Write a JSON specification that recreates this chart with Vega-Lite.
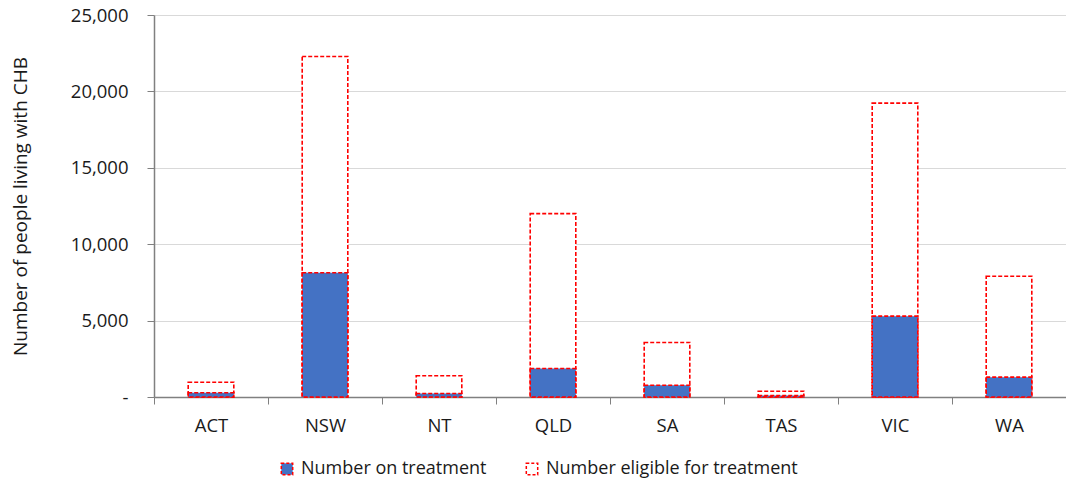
{
  "$schema": "https://vega.github.io/schema/vega-lite/v6.json",
  "width": 912,
  "height": 382,
  "autosize": {"type": "none"},
  "padding": {"left": 154, "top": 15, "right": 0, "bottom": 88},
  "background": "#FFFFFF",
  "config": {
    "view": {"stroke": null},
    "font": "Open Sans",
    "axis": {"labelColor": "#1A1A1A", "titleColor": "#1A1A1A", "labelFont": "Open Sans", "titleFont": "Open Sans"},
    "legend": {"labelColor": "#1A1A1A", "labelFont": "Open Sans"}
  },
  "data": {
    "values": [
      {"state": "ACT", "series": "Number eligible for treatment", "value": 970},
      {"state": "NSW", "series": "Number eligible for treatment", "value": 22280},
      {"state": "NT", "series": "Number eligible for treatment", "value": 1390},
      {"state": "QLD", "series": "Number eligible for treatment", "value": 12000},
      {"state": "SA", "series": "Number eligible for treatment", "value": 3570},
      {"state": "TAS", "series": "Number eligible for treatment", "value": 380},
      {"state": "VIC", "series": "Number eligible for treatment", "value": 19230},
      {"state": "WA", "series": "Number eligible for treatment", "value": 7900},
      {"state": "ACT", "series": "Number on treatment", "value": 280},
      {"state": "NSW", "series": "Number on treatment", "value": 8130},
      {"state": "NT", "series": "Number on treatment", "value": 230},
      {"state": "QLD", "series": "Number on treatment", "value": 1865},
      {"state": "SA", "series": "Number on treatment", "value": 770},
      {"state": "TAS", "series": "Number on treatment", "value": 100},
      {"state": "VIC", "series": "Number on treatment", "value": 5290},
      {"state": "WA", "series": "Number on treatment", "value": 1300}
    ]
  },
  "mark": {
    "type": "bar",
    "width": {"band": 0.4},
    "stroke": "#FF0000",
    "strokeDash": [4, 2],
    "strokeWidth": 1.6
  },
  "encoding": {
    "x": {
      "field": "state",
      "type": "nominal",
      "sort": ["ACT", "NSW", "NT", "QLD", "SA", "TAS", "VIC", "WA"],
      "scale": {"paddingInner": 0, "paddingOuter": 0},
      "axis": {
        "title": null,
        "labelAngle": 0,
        "labelFontSize": 18.5,
        "labelPadding": 12,
        "tickBand": "extent",
        "tickSize": 7,
        "tickColor": "#808080",
        "domainColor": "#808080",
        "domainWidth": 1.5
      }
    },
    "y": {
      "field": "value",
      "type": "quantitative",
      "stack": null,
      "scale": {"domain": [0, 25000], "nice": false},
      "axis": {
        "title": "Number of people living with CHB",
        "titleFontSize": 19,
        "titleFontWeight": "normal",
        "titlePadding": 40,
        "values": [0, 5000, 10000, 15000, 20000, 25000],
        "labelExpr": "datum.value === 0 ? '-' : format(datum.value, ',')",
        "labelFontSize": 18.5,
        "labelPadding": 19,
        "tickSize": 7,
        "tickColor": "#808080",
        "domainColor": "#808080",
        "domainWidth": 1.5,
        "grid": true,
        "gridColor": "#D9D9D9",
        "gridWidth": 1
      }
    },
    "fill": {
      "field": "series",
      "type": "nominal",
      "scale": {
        "domain": ["Number on treatment", "Number eligible for treatment"],
        "range": ["#4472C4", "#FFFFFF"]
      },
      "legend": {
        "title": null,
        "orient": "none",
        "direction": "horizontal",
        "legendX": 124,
        "legendY": 445,
        "symbolType": "square",
        "symbolSize": 130,
        "symbolStrokeColor": "#FF0000",
        "symbolDash": [3, 2],
        "symbolStrokeWidth": 1.5,
        "symbolOpacity": 1,
        "labelFontSize": 18,
        "labelOffset": 5,
        "labelLimit": 400,
        "columnPadding": 36
      }
    }
  }
}
